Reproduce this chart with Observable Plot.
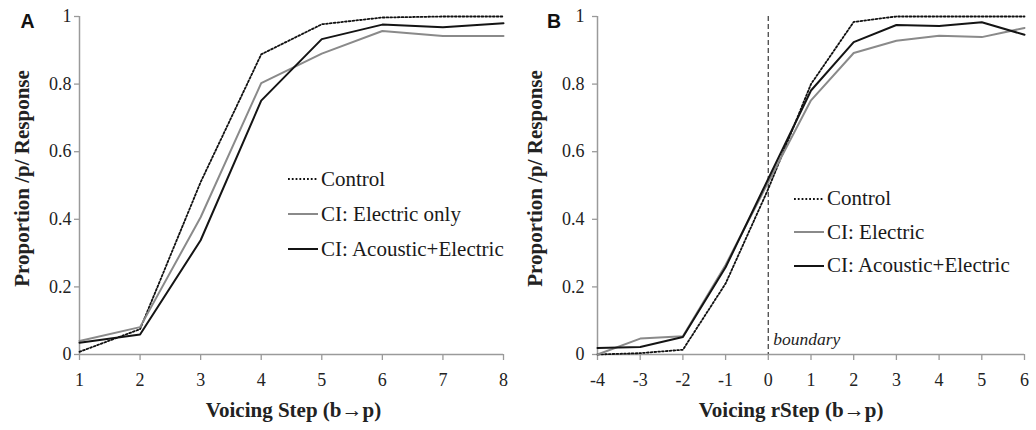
<!DOCTYPE html>
<html><head><meta charset="utf-8">
<script src="https://cdn.jsdelivr.net/npm/d3@7"></script>
<script src="https://cdn.jsdelivr.net/npm/@observablehq/plot@0.6"></script>
<style>
html,body{margin:0;padding:0;background:#fff;}
#wrap{position:relative;width:1036px;height:430px;overflow:hidden;}
.panel{position:absolute;top:0;}
.leg{position:absolute;font-family:"Liberation Serif","Times New Roman",serif;font-size:21px;color:#1a1a1a;}
.row{position:absolute;left:0;white-space:nowrap;display:flex;align-items:center;height:20px;}
.row svg{margin-right:3px;}
</style></head>
<body><div id="wrap"></div>
<script>
// ---- Panel A data ----
const stepsA = [1, 2, 3, 4, 5, 6, 7, 8];
const controlA = [0.008, 0.075, 0.51, 0.888, 0.977, 0.997, 1.0, 1.0];
const electricA = [0.04, 0.081, 0.406, 0.803, 0.89, 0.957, 0.942, 0.942];
const acousticA = [0.035, 0.059, 0.338, 0.751, 0.933, 0.976, 0.968, 0.98];
// ---- Panel B data ----
const stepsB = [-4, -3, -2, -1, 0, 1, 2, 3, 4, 5, 6];
const controlB = [0.0, 0.004, 0.014, 0.21, 0.49, 0.80, 0.984, 1.0, 1.0, 1.0, 1.0];
const electricB = [0.0, 0.047, 0.054, 0.265, 0.51, 0.752, 0.892, 0.928, 0.943, 0.939, 0.966];
const acousticB = [0.019, 0.022, 0.052, 0.258, 0.52, 0.781, 0.924, 0.975, 0.972, 0.983, 0.946];
const yTicks = [0, 0.2, 0.4, 0.6, 0.8, 1];
const seriesNamesA = ["Control", "CI: Electric only", "CI: Acoustic+Electric"];
const seriesNamesB = ["Control", "CI: Electric", "CI: Acoustic+Electric"];
const yLabel = "Proportion /p/ Response";
const xLabelA = "Voicing Step (b\u2192p)";
const xLabelB = "Voicing rStep (b\u2192p)";
const boundaryX = [0];

const styles = [
  {stroke: "#111", strokeWidth: 1.8, strokeDasharray: "1.8,2"},
  {stroke: "#8a8a8a", strokeWidth: 2},
  {stroke: "#141414", strokeWidth: 2}
];
const axisColor = "#9a9a9a";
const serif = "Liberation Serif, Times New Roman, serif";

function makePanel(steps, series, xLabel, letter, opts) {
  const marks = [];
  marks.push(Plot.ruleY([0], {stroke: axisColor, strokeWidth: 1.5}));
  marks.push(Plot.ruleX([steps[0]], {stroke: axisColor, strokeWidth: 1.5}));
  marks.push(Plot.axisX({ticks: steps, tickSize: 6, tickPadding: 13, stroke: axisColor, strokeWidth: 1.3, fontSize: 18, fontFamily: serif, fill: "#222", tickFormat: d => d < 0 ? "-" + Math.abs(d) : String(d), label: null}));
  marks.push(Plot.axisY({ticks: yTicks, tickSize: 5, tickPadding: opts.yPad, stroke: axisColor, strokeWidth: 1.3, fontSize: 18, fontFamily: serif, fill: "#222", tickFormat: d => d === 0 ? "0" : d === 1 ? "1" : d.toFixed(1), label: null}));
  if (opts.boundary) {
    marks.push(Plot.ruleX(boundaryX, {stroke: "#555", strokeWidth: 1.4, strokeDasharray: "5,3"}));
    marks.push(Plot.text(boundaryX, {x: d => d, y: 0.045, text: () => "boundary", textAnchor: "start", dx: 5, fontStyle: "italic", fontSize: 17.5, fontFamily: serif, fill: "#222"}));
  }
  series.forEach((vals, i) => {
    const data = steps.map((s, j) => ({x: s, y: vals[j]}));
    marks.push(Plot.line(data, {x: "x", y: "y", ...styles[i]}));
  });
  marks.push(Plot.text([xLabel], {frameAnchor: "bottom", textAnchor: "middle", lineAnchor: "middle", dx: opts.titleDx, dy: 56, fontWeight: "bold", fontSize: 21, fontFamily: serif, fill: "#222"}));
  marks.push(Plot.text([yLabel], {frameAnchor: "left", textAnchor: "middle", lineAnchor: "middle", dx: opts.yLabelDx, dy: -7, rotate: -90, fontWeight: "bold", fontSize: 21, fontFamily: serif, fill: "#222"}));
  marks.push(Plot.text([letter], {frameAnchor: "top-left", textAnchor: "middle", lineAnchor: "middle", dx: opts.letterDx, dy: 5.5, fontWeight: "bold", fontSize: 19.5, fontFamily: "Liberation Sans, Arial, sans-serif", fill: "#111"}));
  return Plot.plot({
    width: opts.width, height: 430,
    marginLeft: 79, marginTop: 16, marginBottom: 76, marginRight: opts.marginRight,
    x: {domain: [steps[0], steps[steps.length - 1]]},
    y: {domain: [0, 1]},
    style: {fontFamily: serif, fontSize: "18px", background: "transparent", overflow: "visible"},
    marks
  });
}

function makeLegend(names, left, top, gap) {
  const div = document.createElement("div");
  div.className = "leg";
  div.style.left = left + "px";
  div.style.top = top + "px";
  names.forEach((n, i) => {
    const r = document.createElement("div");
    r.className = "row";
    r.style.top = (i * gap) + "px";
    const st = styles[i];
    r.innerHTML = `<svg width="30" height="6"><line x1="0" y1="3" x2="30" y2="3" stroke="${st.stroke}" stroke-width="${st.strokeWidth}" ${st.strokeDasharray ? `stroke-dasharray="${st.strokeDasharray}"` : ""}/></svg><span>${n}</span>`;
    div.appendChild(r);
  });
  return div;
}

const wrap = document.getElementById("wrap");
const a = makePanel(stepsA, [controlA, electricA, acousticA], xLabelA, "A", {width: 518, marginRight: 15, yPad: 3, titleDx: 2, yLabelDx: -57, letterDx: -52});
a.classList.add("panel"); a.style.left = "0px";
wrap.appendChild(a);
const b = makePanel(stepsB, [controlB, electricB, acousticB], xLabelB, "B", {width: 518, marginRight: 12, boundary: true, yPad: 8, titleDx: -20, yLabelDx: -62.5, letterDx: -43.5});
b.classList.add("panel"); b.style.left = "518px";
wrap.appendChild(b);
wrap.appendChild(makeLegend(seriesNamesA, 288, 169, 35));
wrap.appendChild(makeLegend(seriesNamesB, 794, 188.5, 33.5));
</script></body></html>
